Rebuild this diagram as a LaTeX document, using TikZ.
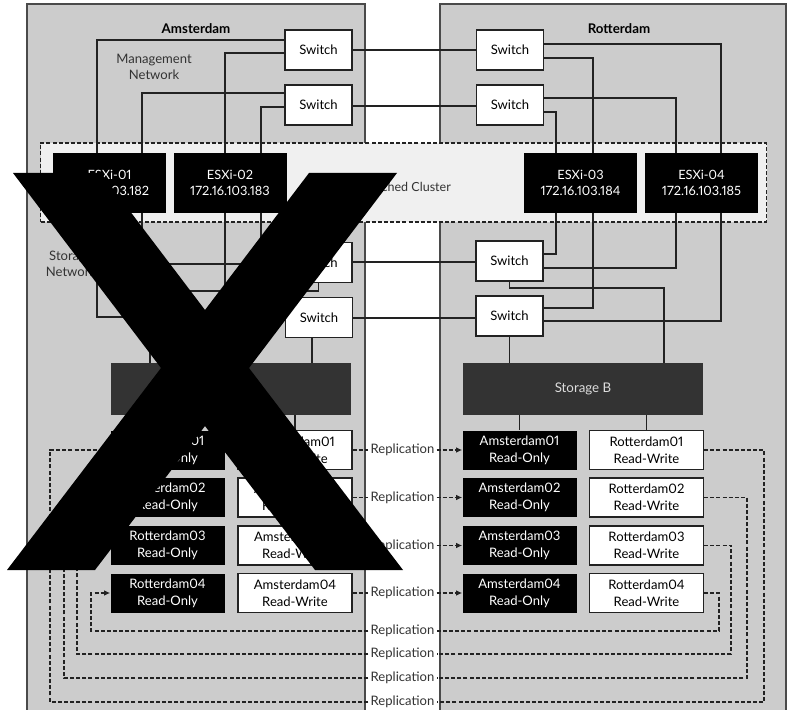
\documentclass[tikz,border=0pt]{standalone}
\usepackage{fontspec}
\setmainfont{Lato}[Numbers=Proportional]
\usetikzlibrary{arrows.meta}

\definecolor{sitegray}{HTML}{CCCCCC}
\definecolor{clustergray}{HTML}{F0F0F0}
\definecolor{storagegray}{HTML}{333333}
\definecolor{storagetext}{HTML}{DDDDDD}
\definecolor{linegray}{HTML}{222222}
\definecolor{edgegray}{HTML}{4A4A4A}
\definecolor{textgray}{HTML}{333333}

\begin{document}
\begin{tikzpicture}[
  x=0.75pt,
  y=-0.75pt,
  >={Latex[length=4.5pt,width=4.2pt]},
  link/.style={draw=linegray,line width=.9pt},
  repl/.style={draw=linegray,line width=.9pt,dash pattern=on 3pt off 1.6pt},
  site/.style={draw=edgegray,line width=.8pt,fill=sitegray},
  sitetitle/.style={font=\fontsize{10}{12}\selectfont\bfseries,text=black},
  netlabel/.style={align=center,font=\fontsize{9.8}{12}\selectfont,text=textgray},
  clusterbox/.style={draw=linegray,line width=.8pt,dash pattern=on 3pt off 1.6pt,
    fill=clustergray,minimum width=544.5pt,minimum height=59.25pt,inner sep=0pt},
  switchbox/.style={draw=linegray,line width=.9pt,fill=white,minimum width=50.25pt,
    minimum height=30pt,inner sep=0pt,font=\fontsize{9.8}{11}\selectfont},
  hostbox/.style={fill=black,text=white,align=center,minimum width=84.75pt,
    minimum height=45pt,inner sep=0pt,font=\fontsize{9.6}{12.5}\selectfont},
  storagebox/.style={fill=storagegray,text=storagetext,minimum width=180pt,
    minimum height=39pt,inner sep=0pt,font=\fontsize{10}{12}\selectfont},
  rovol/.style={fill=black,text=white,align=center,minimum width=85.5pt,
    minimum height=29.25pt,inner sep=0pt,font=\fontsize{9.8}{12.5}\selectfont},
  rwvol/.style={rovol,fill=white,text=black,draw=linegray,line width=.9pt},
  replabel/.style={font=\fontsize{9.8}{11}\selectfont,text=textgray,inner sep=1.5pt}
]
\useasboundingbox (0,0) rectangle (787,709);
\clip (0,0) rectangle (787,709);

% the two sites
\draw[site] (27,4) rectangle (365,715);
\draw[site] (440,4) rectangle (786,715);
\node[sitetitle] (amsterdam) at (196,29) {Amsterdam};
\node[sitetitle] (rotterdam) at (619,29) {Rotterdam};

\node[netlabel] (mgmtnet) at (154,67) {Management\\Network};
\node[netlabel] (stornet) at (71,264) {Storage\\Network};

% stretched cluster with its hosts
\node[clusterbox] (cluster) at (403.5,182.5) {};
\node[netlabel,font=\fontsize{9.4}{12}\selectfont] (clustertitle) at (403,187) {Stretched Cluster};

\node[hostbox] (esx01) at (109.5,183) {ESXi-01\\172.16.103.182};
\node[hostbox] (esx02) at (230,183) {ESXi-02\\172.16.103.183};
\node[hostbox] (esx03) at (580.5,183) {ESXi-03\\172.16.103.184};
\node[hostbox] (esx04) at (701.5,183) {ESXi-04\\172.16.103.185};

% switches
\node[switchbox] (mgmtA1) at (318.5,50) {Switch};
\node[switchbox] (mgmtA2) at (318.5,105) {Switch};
\node[switchbox] (mgmtR1) at (510,50) {Switch};
\node[switchbox] (mgmtR2) at (510,105) {Switch};
\node[switchbox] (storA1) at (318.5,262.5) {Switch};
\node[switchbox] (storA2) at (319,317.5) {Switch};
\node[switchbox] (storR1) at (509.5,261) {Switch};
\node[switchbox] (storR2) at (509.5,316) {Switch};

% arrays
\node[storagebox] (storA) at (231,389) {Storage A};
\node[storagebox] (storB) at (583,389) {Storage B};

% management network
\draw[link] (mgmtA1.east |- 0,50) -- (mgmtR1.west |- 0,50);
\draw[link] (mgmtA2.east |- 0,106) -- (mgmtR2.west |- 0,106);
\draw[link] (mgmtA1.west |- 0,40) -| (esx01.north -| 97,0);
\draw[link] (mgmtA1.west |- 0,53) -| (esx02.north -| 225,0);
\draw[link] (mgmtA2.west |- 0,93) -| (esx01.north -| 142,0);
\draw[link] (mgmtA2.west |- 0,107) -| (esx02.north -| 261,0);
\draw[link] (mgmtR1.east |- 0,44) -| (esx04.north -| 721,0);
\draw[link] (mgmtR1.east |- 0,58) -| (esx03.north -| 593,0);
\draw[link] (mgmtR2.east |- 0,98) -| (esx04.north -| 676,0);
\draw[link] (mgmtR2.east |- 0,112) -| (esx03.north -| 556,0);

% storage network
\draw[link] (storA1.east |- 0,262) -- (storR1.west |- 0,262);
\draw[link] (storA2.east |- 0,318) -- (storR2.west |- 0,318);
\draw[link] (storA1.west |- 0,255) -| (esx02.south -| 261,0);
\draw[link] (storA1.west |- 0,264) -| (esx01.south -| 142,0);
\draw[link] (storA2.west |- 0,305) -| (esx02.south -| 225,0);
\draw[link] (storA2.west |- 0,317) -| (esx01.south -| 97,0);
\draw[link] (storR1.east |- 0,254) -| (esx03.south -| 556,0);
\draw[link] (storR1.east |- 0,268) -| (esx04.south -| 676,0);
\draw[link] (storR2.east |- 0,308) -| (esx03.south -| 593,0);
\draw[link] (storR2.east |- 0,321) -| (esx04.south -| 721,0);
\draw[link] (storA1.south) -- (storA1.south |- 0,291) -| (storA.north -| 150,0);
\draw[link] (storA2.south -| 312,0) -- (storA.north -| 312,0);
\draw[link] (storR1.south) -- (storR1.south |- 0,288) -| (storB.north -| 664,0);
\draw[link] (storR2.south) -- (storB.north -| storR2.south);

% volumes
\node[rovol] (volA1ro) at (167.5,450) {Rotterdam01\\Read-Only};
\node[rovol] (volA2ro) at (167.5,497.5) {Rotterdam02\\Read-Only};
\node[rovol] (volA3ro) at (167.5,545.5) {Rotterdam03\\Read-Only};
\node[rovol] (volA4ro) at (167.5,593) {Rotterdam04\\Read-Only};
\node[rwvol] (volA1rw) at (295,450) {Amsterdam01\\Read-Write};
\node[rwvol] (volA2rw) at (295,497.5) {Amsterdam02\\Read-Write};
\node[rwvol] (volA3rw) at (295,545.5) {Amsterdam03\\Read-Write};
\node[rwvol] (volA4rw) at (295,593) {Amsterdam04\\Read-Write};
\node[rovol] (volR1ro) at (519.5,450) {Amsterdam01\\Read-Only};
\node[rovol] (volR2ro) at (519.5,497.5) {Amsterdam02\\Read-Only};
\node[rovol] (volR3ro) at (519.5,545.5) {Amsterdam03\\Read-Only};
\node[rovol] (volR4ro) at (519.5,593) {Amsterdam04\\Read-Only};
\node[rwvol] (volR1rw) at (646.5,450) {Rotterdam01\\Read-Write};
\node[rwvol] (volR2rw) at (646.5,497.5) {Rotterdam02\\Read-Write};
\node[rwvol] (volR3rw) at (646.5,545.5) {Rotterdam03\\Read-Write};
\node[rwvol] (volR4rw) at (646.5,593) {Rotterdam04\\Read-Write};

\draw[link] (storA.south -| volA1ro) -- (volA1ro.north);
\draw[link] (storA.south -| volA1rw) -- (volA1rw.north);
\draw[link] (storB.south -| volR1ro) -- (volR1ro.north);
\draw[link] (storB.south -| volR1rw) -- (volR1rw.north);

% replication Amsterdam -> Rotterdam
\node[replabel] (replm1) at (402.5,450) {Replication};
\node[replabel] (replm2) at (402.5,497.5) {Replication};
\node[replabel] (replm3) at (402.5,545.5) {Replication};
\node[replabel] (replm4) at (402.5,593) {Replication};
\draw[repl] (volA1rw.east) -- (replm1.west);
\draw[repl] (volA2rw.east) -- (replm2.west);
\draw[repl] (volA3rw.east) -- (replm3.west);
\draw[repl] (volA4rw.east) -- (replm4.west);
\draw[repl,->] (replm1.east) -- (volR1ro.west);
\draw[repl,->] (replm2.east) -- (volR2ro.west);
\draw[repl,->] (replm3.east) -- (volR3ro.west);
\draw[repl,->] (replm4.east) -- (volR4ro.west);

% replication Rotterdam -> Amsterdam, routed below the volumes
\node[replabel] (replb1) at (402.5,631) {Replication};
\node[replabel] (replb2) at (402.5,654) {Replication};
\node[replabel] (replb3) at (402.5,678) {Replication};
\node[replabel] (replb4) at (402.5,702) {Replication};
\draw[repl] (volR4rw.east) -| (replb1.east -| 719,0) -- (replb1.east);
\draw[repl] (volR3rw.east) -| (replb2.east -| 731,0) -- (replb2.east);
\draw[repl] (volR2rw.east) -| (replb3.east -| 747,0) -- (replb3.east);
\draw[repl] (volR1rw.east) -| (replb4.east -| 764,0) -- (replb4.east);
\draw[repl,->] (replb1.west) -| (volA4ro.west -| 91,0) -- (volA4ro.west);
\draw[repl,->] (replb2.west) -| (volA3ro.west -| 77,0) -- (volA3ro.west);
\draw[repl,->] (replb3.west) -| (volA2ro.west -| 64,0) -- (volA2ro.west);
\draw[repl,->] (replb4.west) -| (volA1ro.west -| 50,0) -- (volA1ro.west);

% big cross laid over the Amsterdam half
\fill[black] (13,173) -- (101,173) -- (205,310) -- (309,173) -- (397,173)
  -- (249,368) -- (403,570) -- (315,570) -- (205,426) -- (95,570)
  -- (7,570) -- (161,368) -- cycle;
\end{tikzpicture}
\end{document}
